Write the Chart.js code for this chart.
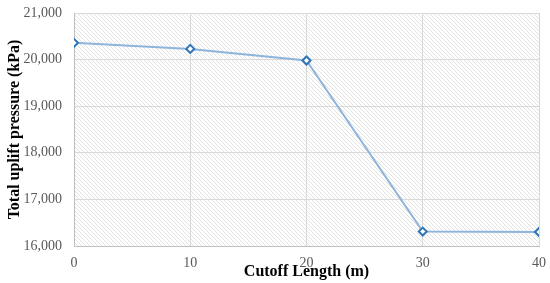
<!DOCTYPE html>
<html>
<head>
<meta charset="utf-8">
<script src="https://cdn.jsdelivr.net/npm/chart.js@4"></script>
<style>
  html, body { margin: 0; padding: 0; background: #fff; }
  #wrap { width: 550px; height: 283px; }
</style>
</head>
<body>
<div id="wrap"><canvas id="chart"></canvas></div>
<script>
const cutoffLengths = [0, 10, 20, 30, 40];
const upliftPressure = [20360, 20230, 19980, 16310, 16300];
const yTicks = [16000, 17000, 18000, 19000, 20000, 21000];

// diagonal hatch behind the plot area
const hatchPlugin = {
  id: 'hatch',
  beforeDraw(chart) {
    const { ctx, chartArea: a } = chart;
    const p = document.createElement('canvas');
    p.width = 4; p.height = 4;
    const pc = p.getContext('2d');
    pc.strokeStyle = '#e2e2e2';
    pc.lineWidth = 1;
    pc.beginPath();
    pc.moveTo(0, 0); pc.lineTo(4, 4);
    pc.moveTo(-1, 3); pc.lineTo(1, 5);
    pc.moveTo(3, -1); pc.lineTo(5, 1);
    pc.stroke();
    ctx.save();
    ctx.fillStyle = ctx.createPattern(p, 'repeat');
    ctx.fillRect(a.left, a.top, a.right - a.left, a.bottom - a.top);
    ctx.restore();
  }
};

new Chart(document.getElementById('chart'), {
  type: 'line',
  data: {
    datasets: [{
      data: cutoffLengths.map((x, i) => ({ x: x, y: upliftPressure[i] })),
      borderColor: '#8fb4dc',
      borderWidth: 2,
      pointStyle: 'rectRot',
      pointRadius: 4,
      pointBorderWidth: 2,
      pointBorderColor: '#2e75b6',
      pointBackgroundColor: '#ffffff',
      tension: 0
    }]
  },
  options: {
    responsive: true,
    maintainAspectRatio: false,
    animation: false,
    layout: { padding: { top: 13, right: 11, left: 0, bottom: 0 } },
    plugins: { legend: { display: false }, tooltip: { enabled: false } },
    scales: {
      x: {
        type: 'linear',
        min: 0, max: 40,
        afterBuildTicks: s => { s.ticks = cutoffLengths.map(v => ({ value: v })); },
        afterFit: s => { s.height = 37; s.paddingLeft = 0; s.paddingRight = 0; },
        grid: { color: '#d9d9d9', drawTicks: false },
        border: { color: '#bfbfbf' },
        ticks: { color: '#595959', font: { family: 'Liberation Serif', size: 14 }, padding: 9 },
        title: { display: true, text: 'Cutoff Length (m)', color: '#000', font: { family: 'Liberation Serif', size: 16, weight: 'bold' }, padding: { top: 0, bottom: 2 } }
      },
      y: {
        min: 16000, max: 21000,
        afterBuildTicks: s => { s.ticks = yTicks.map(v => ({ value: v })); },
        afterFit: s => { s.width = 74; s.paddingTop = 0; s.paddingBottom = 0; },
        grid: { color: '#d9d9d9', drawTicks: false },
        border: { color: '#bfbfbf' },
        ticks: { color: '#595959', font: { family: 'Liberation Serif', size: 14 }, padding: 12,
          callback: v => v.toLocaleString('en-US') },
        title: { display: true, text: 'Total uplift pressure (kPa)', color: '#000', font: { family: 'Liberation Serif', size: 16, weight: 'bold' }, padding: { top: 5, bottom: 0 } }
      }
    }
  },
  plugins: [hatchPlugin]
});
</script>
</body>
</html>
